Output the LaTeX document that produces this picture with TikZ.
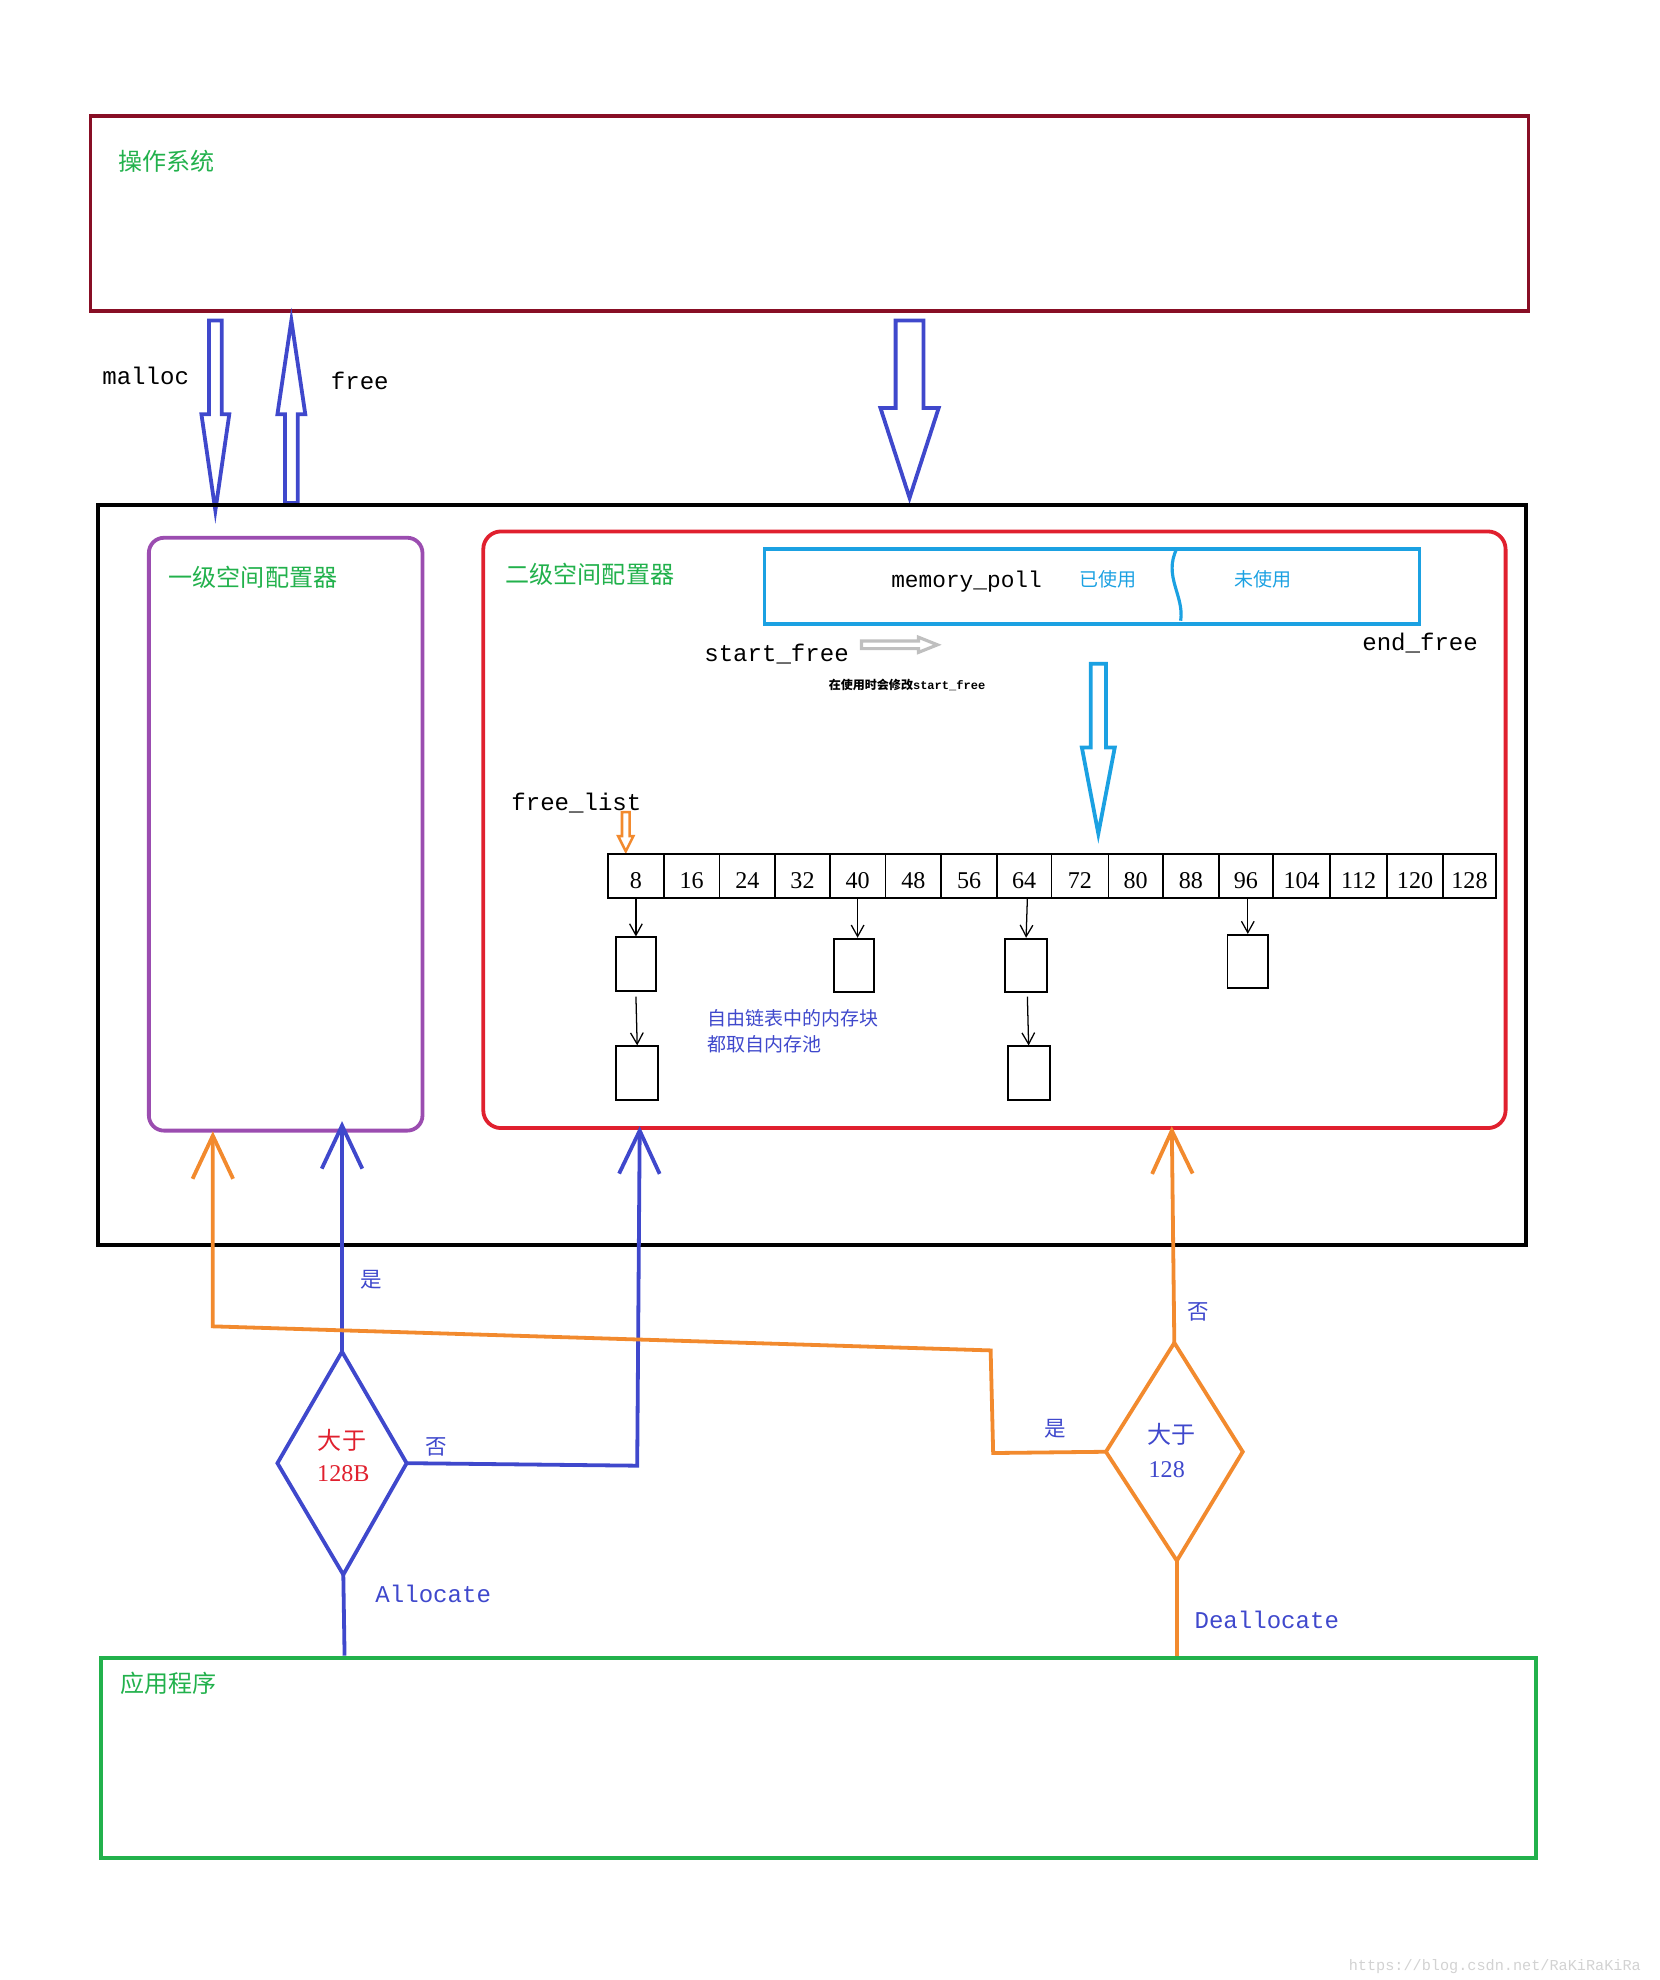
\documentclass[tikz,border=0pt]{standalone}
\usepackage{fontspec}
\setmainfont{Liberation Serif}
\newfontfamily\cjk{Noto Sans CJK SC}
\newfontfamily\mono{Liberation Mono}
\usetikzlibrary{arrows.meta}
\definecolor{osred}{HTML}{880E25}
\definecolor{pur}{HTML}{9B4DB0}
\definecolor{rd}{HTML}{E0202E}
\definecolor{cy}{HTML}{1BA1E2}
\definecolor{gr}{HTML}{22B14C}
\definecolor{bl}{HTML}{3F48CC}
\definecolor{og}{HTML}{F28A2E}
\begin{document}
\begin{tikzpicture}[x=1pt,y=-1pt,
  cj/.style={font=\cjk\fontsize{19}{22}\selectfont,anchor=west,inner sep=0},
  mn/.style={font=\mono\fontsize{19}{22}\selectfont,inner sep=0},
  num/.style={font=\fontsize{19}{22}\selectfont,inner sep=0},
  cell/.style={draw,line width=1.5pt},
  blk/.style={draw,line width=1.5pt},
  thin/.style={-{Straight Barb[length=9pt,width=10pt]},line width=1pt},
  big/.style={line width=3pt,-{Straight Barb[length=34pt,width=32pt]}},
  hol/.style={line width=3pt,line join=miter}]
\useasboundingbox (0,0) rectangle (1310,1563);
% OS
\node[draw=osred,line width=3pt,minimum width=1135pt,minimum height=154pt,anchor=north west] (os) at (70,90) {};
\node[cj,text=gr] (ost) at (93,127) {操作系统};
% arrows between OS and allocator
\draw[hol,draw=bl] (165,253)--(175,253)--(175,327)--(181,327)--(170,403)--(159,327)--(165,327)--cycle;
\draw[hol,draw=bl] (225,397)--(235,397)--(235,327)--(241,327)--(230,253)--(219,327)--(225,327)--cycle;
\draw[hol,draw=bl] (707,253)--(729,253)--(729,322)--(741,322)--(718,393)--(695,322)--(707,322)--cycle;
\node[mn] (mal) at (115,297) {malloc};
\node[mn] (fre) at (284,301) {free};
% big black box
\node[draw,line width=3pt,minimum width=1127pt,minimum height=584pt,anchor=north west] (main) at (76,397) {};
% level 1
\node[draw=pur,line width=3pt,rounded corners=12pt,minimum width=216pt,minimum height=468pt,anchor=north west] (l1) at (116,423) {};
\node[cj,text=gr] (l1t) at (133,456) {一级空间配置器};
% level 2
\node[draw=rd,line width=3pt,rounded corners=14pt,minimum width=807pt,minimum height=471pt,anchor=north west] (l2) at (380,418) {};
\node[cj,text=gr] (l2t) at (399,453) {二级空间配置器};
% memory pool
\node[draw=cy,line width=3pt,minimum width=517pt,minimum height=59pt,anchor=north west] (pool) at (602,432) {};
\draw[cy,line width=2.5pt] (929,433) .. controls (918,455) and (935,470) .. (932,490);
\node[mn,font=\mono\fontsize{18}{20}\selectfont] (mp) at (763,459) {memory\_poll};
\node[cj,text=cy,anchor=center,font=\cjk\fontsize{15}{18}\selectfont] (used) at (875,457) {已使用};
\node[cj,text=cy,anchor=center,font=\cjk\fontsize{15}{18}\selectfont] (unused) at (997,457) {未使用};
\node[mn] (sf) at (613,516) {start\_free};
\node[mn] (ef) at (1121,508) {end\_free};
\draw[hol,draw=gray!50,line width=2.5pt] (680,506)--(725,506)--(725,503)--(740,509)--(725,515)--(725,512)--(680,512)--cycle;
\node[inner sep=0,font=\cjk\bfseries\fontsize{9.5}{11}\selectfont] (note) at (716,541) {在使用时会修改\textbf{\mono start\_free}};
\draw[hol,draw=cy] (861,524)--(873,524)--(873,590)--(880,590)--(867,658)--(854,590)--(861,590)--cycle;
\node[mn] (fl) at (455,634) {free\_list};
\draw[hol,draw=og,line width=2pt] (491,641)--(497,641)--(497,660)--(500,660)--(494,672)--(488,660)--(491,660)--cycle;
% array
\foreach \a/\b/\t [count=\i] in {480/524/8,524/568/16,568/612/24,612/655/32,655/699/40,699/743/48,743/787/56,787/830/64,830/875/72,875/918/80,918/962/88,962/1005/96,1005/1050/104,1050/1095/112,1095/1139/120,1139/1181/128}{
  \draw[cell] (\a,674) rectangle (\b,709);
  \node[num] (c\i) at ({(\a+\b)/2},695) {\t};
}
\coordinate (s8) at (502,709);
\coordinate (s40) at (677,709);
\coordinate (s64) at (811,709);
\coordinate (s96) at (985,709);
\node[blk,minimum width=32pt,minimum height=42pt,inner sep=0] (b1) at (502,761) {};
\node[blk,minimum width=33pt,minimum height=42pt,inner sep=0] (b2) at (503,847) {};
\node[blk,minimum width=32pt,minimum height=42pt,inner sep=0] (b3) at (674,762) {};
\node[blk,minimum width=33pt,minimum height=42pt,inner sep=0] (b4) at (810,762) {};
\node[blk,minimum width=33pt,minimum height=42pt,inner sep=0] (b5) at (812,847) {};
\node[blk,minimum width=32pt,minimum height=42pt,inner sep=0] (b6) at (985,759) {};
\draw[thin] (s8) -- (b1.north);
\draw[thin] (b1.south) ++(0,4) -- (b2.north);
\draw[thin] (s40) -- (b3.north -| s40);
\draw[thin] (s64) -- (b4.north);
\draw[thin] (b4.south) ++(1,3) -- (b5.north);
\draw[thin] (s96) -- (b6.north);
\node[cj,text=bl,font=\cjk\fontsize{15}{20}\selectfont,align=left,anchor=north west] (nt) at (558,797) {自由链表中的内存块\\都取自内存池};
% app
\node[draw=gr,line width=3pt,minimum width=1133pt,minimum height=158pt,anchor=north west] (app) at (78,1307) {};
\node[cj,text=gr] (appt) at (95,1329) {应用程序};
% diamonds
\draw[bl,line width=3pt] (270,1067)--(321,1155)--(271,1243)--(219,1155)--cycle;
\coordinate (d1t) at (270,1067); \coordinate (d1b) at (271,1243); \coordinate (d1r) at (321,1155);
\node[cj,anchor=center,text=rd] (d1a) at (270,1137) {大于};
\node[num,text=rd] (d1c) at (271,1163) {128B};
\draw[og,line width=3pt] (927,1060)--(981,1146)--(929,1232)--(873,1146)--cycle;
\coordinate (d2t) at (927,1060); \coordinate (d2b) at (929,1232); \coordinate (d2l) at (873,1146);
\node[cj,anchor=center,text=bl] (d2a) at (925,1132) {大于};
\node[num,text=bl] (d2c) at (921,1160) {128};
% connectors
\coordinate (appA) at (272,1307);
\coordinate (appD) at (929,1307);
\draw[bl,line width=3pt] (appA) -- (d1b);
\draw[big,bl] (d1t) -- (270,885);
\draw[big,bl] (d1r) -- (503,1157) -- (505,889);
\draw[og,line width=3pt] (appD) -- (d2b);
\draw[big,og] (d2t) -- (925,889);
\draw[big,og] (d2l) -- (784,1147) -- (782,1066) -- (168,1047) -- (168,893);
\node[cj,anchor=center,text=bl,font=\cjk\fontsize{17}{20}\selectfont] (y1) at (293,1010) {是};
\node[cj,anchor=center,text=bl,font=\cjk\fontsize{17}{20}\selectfont] (n1) at (344,1142) {否};
\node[cj,anchor=center,text=bl,font=\cjk\fontsize{17}{20}\selectfont] (n2) at (946,1036) {否};
\node[cj,anchor=center,text=bl,font=\cjk\fontsize{17}{20}\selectfont] (y2) at (833,1128) {是};
\node[mn,text=bl] (alc) at (342,1258) {Allocate};
\node[mn,text=bl] (dea) at (1000,1279) {Deallocate};
\node[inner sep=0,text=gray!35,font=\mono\fontsize{12}{14}\selectfont] (wm) at (1180,1552) {https://blog.csdn.net/RaKiRaKiRa};
\end{tikzpicture}
\end{document}
